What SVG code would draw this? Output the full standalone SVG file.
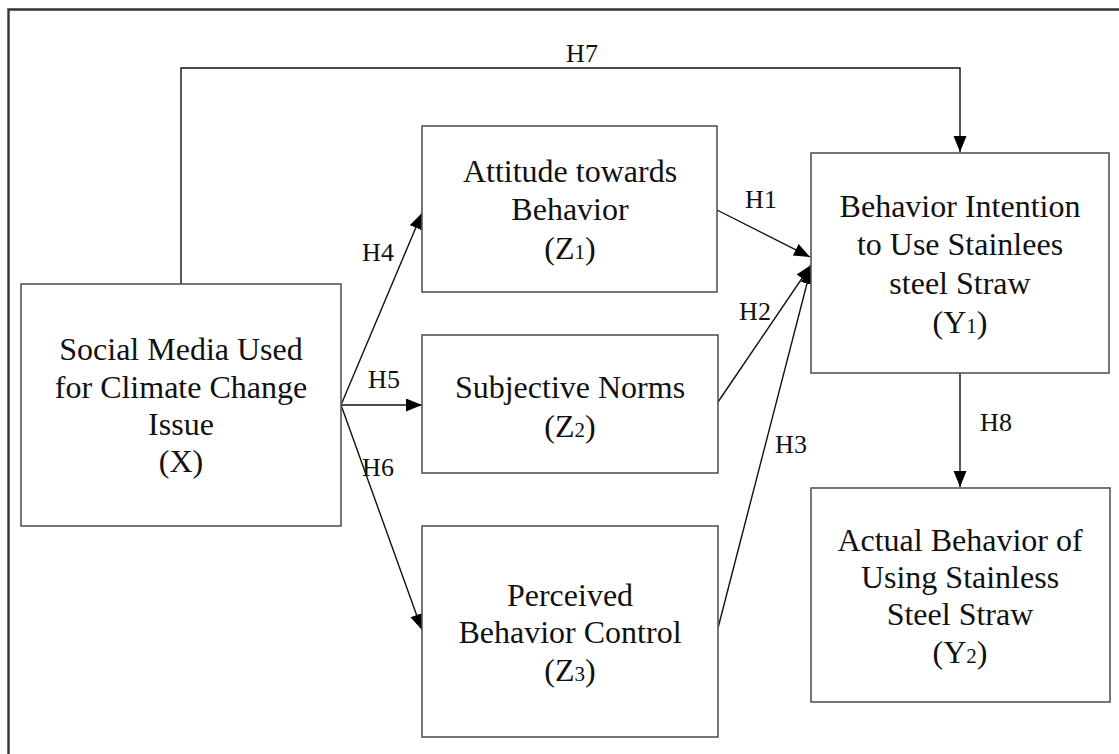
<svg xmlns="http://www.w3.org/2000/svg" width="1119" height="754" viewBox="0 0 1119 754">
  <defs>
    <style>
      .box { fill: #ffffff; stroke: #555555; stroke-width: 1.6; }
      .lbl { font-family: "Liberation Serif", "Times New Roman", serif; font-size: 32px; fill: #111111; text-anchor: middle; }
      .h { font-family: "Liberation Serif", "Times New Roman", serif; font-size: 26px; fill: #111111; text-anchor: middle; }
      .sub { font-size: 21px; }
      .conn { fill: none; stroke: #111111; stroke-width: 1.4; }
    </style>
    <marker id="arr" markerUnits="userSpaceOnUse" markerWidth="17" markerHeight="14" refX="16" refY="6.5" orient="auto">
      <path d="M0,0 L16,6.5 L0,13 z" fill="#000000"/>
    </marker>
  </defs>
  <rect x="0" y="0" width="1119" height="754" fill="#ffffff"/>
  <path d="M8.5,760 L8.5,9.5 L1125,9.5" fill="none" stroke="#333333" stroke-width="2.4"/>

  <g id="connectors">
    <polyline class="conn" points="181,284 181,68 960,68 960,152" marker-end="url(#arr)"/>
    <line class="conn" x1="341" y1="405" x2="422" y2="213" marker-end="url(#arr)"/>
    <line class="conn" x1="341" y1="405" x2="422" y2="405" marker-end="url(#arr)"/>
    <line class="conn" x1="341" y1="405" x2="422" y2="630" marker-end="url(#arr)"/>
    <line class="conn" x1="717" y1="210" x2="810" y2="257" marker-end="url(#arr)"/>
    <line class="conn" x1="718" y1="402" x2="811" y2="265" marker-end="url(#arr)"/>
    <line class="conn" x1="718" y1="628" x2="811" y2="268" marker-end="url(#arr)"/>
    <line class="conn" x1="960" y1="373" x2="960" y2="487" marker-end="url(#arr)"/>
    <text class="h" x="582" y="62">H7</text>
    <text class="h" x="761" y="208">H1</text>
    <text class="h" x="755" y="320">H2</text>
    <text class="h" x="791" y="453">H3</text>
    <text class="h" x="378" y="261">H4</text>
    <text class="h" x="384" y="388">H5</text>
    <text class="h" x="378" y="476">H6</text>
    <text class="h" x="996" y="431">H8</text>
  </g>

  <g id="node-x">
    <rect class="box" x="21" y="284" width="320" height="242"/>
    <text class="lbl" x="181" y="360">Social Media Used</text>
    <text class="lbl" x="181" y="398">for Climate Change</text>
    <text class="lbl" x="181" y="435">Issue</text>
    <text class="lbl" x="181" y="472">(X)</text>
  </g>

  <g id="node-z1">
    <rect class="box" x="422" y="126" width="295" height="166"/>
    <text class="lbl" x="570" y="182">Attitude towards</text>
    <text class="lbl" x="570" y="220">Behavior</text>
    <text class="lbl" x="570" y="259">(Z<tspan class="sub">1</tspan>)</text>
  </g>

  <g id="node-z2">
    <rect class="box" x="422" y="335" width="296" height="138"/>
    <text class="lbl" x="570" y="398">Subjective Norms</text>
    <text class="lbl" x="570" y="437">(Z<tspan class="sub">2</tspan>)</text>
  </g>

  <g id="node-z3">
    <rect class="box" x="422" y="526" width="296" height="211"/>
    <text class="lbl" x="570" y="606">Perceived</text>
    <text class="lbl" x="570" y="643">Behavior Control</text>
    <text class="lbl" x="570" y="681">(Z<tspan class="sub">3</tspan>)</text>
  </g>

  <g id="node-y1">
    <rect class="box" x="811" y="153" width="298" height="220"/>
    <text class="lbl" x="960" y="217">Behavior Intention</text>
    <text class="lbl" x="960" y="255">to Use Stainlees</text>
    <text class="lbl" x="960" y="294">steel Straw</text>
    <text class="lbl" x="960" y="333">(Y<tspan class="sub">1</tspan>)</text>
  </g>

  <g id="node-y2">
    <rect class="box" x="811" y="488" width="299" height="214"/>
    <text class="lbl" x="960" y="551">Actual Behavior of</text>
    <text class="lbl" x="960" y="588">Using Stainless</text>
    <text class="lbl" x="960" y="625">Steel Straw</text>
    <text class="lbl" x="960" y="663">(Y<tspan class="sub">2</tspan>)</text>
  </g>
</svg>
